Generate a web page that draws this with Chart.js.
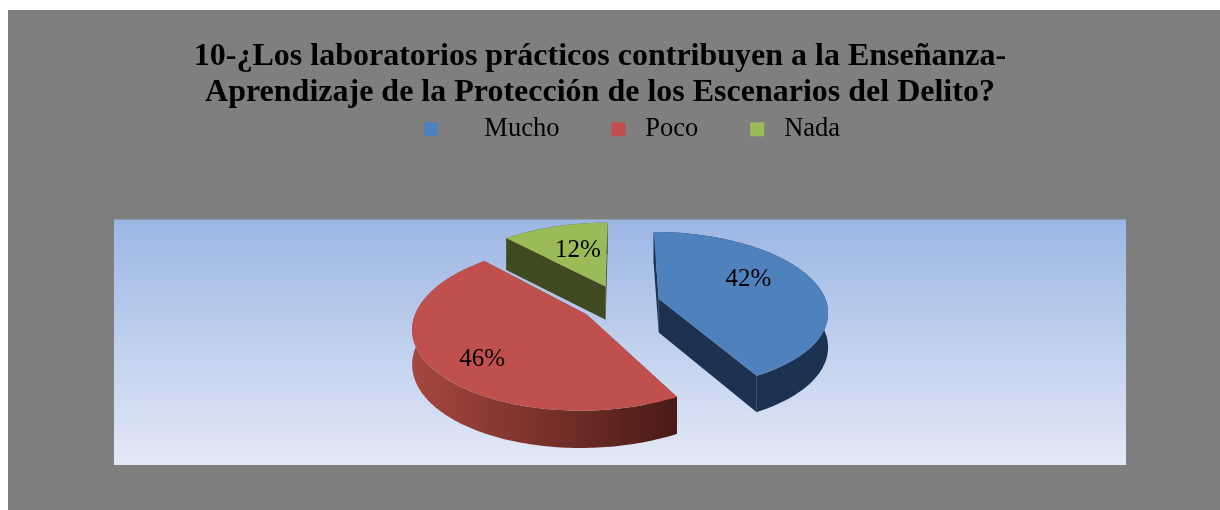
<!DOCTYPE html>
<html>
<head>
<meta charset="utf-8">
<script src="https://cdn.jsdelivr.net/npm/chart.js@4"></script>
<style>
  body { margin: 0; background: #fff; }
  #myChart { position: absolute; left: 8px; top: 10px; background: #7f7f7f; }
</style>
</head>
<body>
<canvas id="myChart" width="1212" height="500"></canvas>
<script>
const categories = ["Mucho", "Poco", "Nada"];
const values = [42, 46, 12];
const titleLines = [
  "10-¿Los laboratorios prácticos contribuyen a la Enseñanza-",
  "Aprendizaje de la Protección de los Escenarios del Delito?",
];
const colors = ["#4f81bd", "#c0504d", "#9bbb59"];
const sideLeftColors = ["#1d3250", "#a5483f", "#404a20"];
const sideRightColors = ["#1d3250", "#4a1a16", "#404a20"];
const legendGaps = ["     ", " ", " "]; // the source legend has a wider gap after Mucho
const explode = [24, 24, 24]; // percent of the radius

const FONT = "'Liberation Serif', serif";

// Fake 3D pie: takes the arcs laid out by Chart.js and projects them on a tilted plane
const pie3d = {
  id: "pie3d",
  afterLayout(chart, args, opts) {
    chart.titleBlock.left += opts.titleShift;
    chart.titleBlock.right += opts.titleShift;
    chart.legend.left += opts.legendShiftX;
    chart.legend.right += opts.legendShiftX;
    chart.legend.top += opts.legendShiftY;
    chart.legend.bottom += opts.legendShiftY;
  },
  beforeDraw(chart) {
    const { ctx, chartArea: a } = chart;
    const grad = ctx.createLinearGradient(0, a.top, 0, a.bottom);
    grad.addColorStop(0, "#9cb6e4");
    grad.addColorStop(1, "#e3e9f6");
    ctx.save();
    ctx.fillStyle = grad;
    ctx.fillRect(a.left, a.top, a.width, a.height);
    ctx.restore();
  },
  beforeDatasetsDraw(chart, args, opts) {
    const ctx = chart.ctx;
    const arcs = chart.getDatasetMeta(0).data.map((arc, i) => ({ arc, i }));
    // back to front
    arcs.sort((p, q) => midV(p.arc) - midV(q.arc));

    arcs.forEach(({ arc, i }) => {
      const shift = arc.options.offset / 100;
      const mid = (arc.startAngle + arc.endAngle) / 2;
      const du = Math.cos(mid) * shift;
      const dv = Math.sin(mid) * shift;
      const project = (u, v, h) => {
        const w = 1 - opts.perspective * (v + dv);
        return {
          x: arc.x + (arc.outerRadius * opts.scaleX * (u + du)) / w,
          y: arc.y + opts.lift + (arc.outerRadius * opts.scaleY * (v + dv)) / w + (h * opts.depth) / Math.sqrt(w),
        };
      };

      const rim = [];
      const steps = Math.ceil((arc.endAngle - arc.startAngle) / 0.02);
      for (let s = 0; s <= steps; s++) {
        const t = arc.startAngle + ((arc.endAngle - arc.startAngle) * s) / steps;
        rim.push([Math.cos(t), Math.sin(t)]);
      }
      const top = rim.map((r) => project(r[0], r[1], 0));
      const low = rim.map((r) => project(r[0], r[1], 1));
      const apex = project(0, 0, 0);
      const apexLow = project(0, 0, 1);

      const xs = top.map((p) => p.x);
      const side = ctx.createLinearGradient(Math.min(...xs), 0, Math.max(...xs), 0);
      side.addColorStop(0, sideLeftColors[i]);
      side.addColorStop(1, sideRightColors[i]);
      ctx.save();
      ctx.fillStyle = side;

      // cut faces
      [[top[0], low[0]], [top[steps], low[steps]]].forEach(([a, b]) => {
        ctx.beginPath();
        ctx.moveTo(apex.x, apex.y);
        ctx.lineTo(a.x, a.y);
        ctx.lineTo(b.x, b.y);
        ctx.lineTo(apexLow.x, apexLow.y);
        ctx.closePath();
        ctx.fill();
      });
      // outer wall
      ctx.beginPath();
      top.forEach((p, k) => (k ? ctx.lineTo(p.x, p.y) : ctx.moveTo(p.x, p.y)));
      for (let k = steps; k >= 0; k--) ctx.lineTo(low[k].x, low[k].y);
      ctx.closePath();
      ctx.fill();
      // top face
      ctx.fillStyle = arc.options.backgroundColor;
      ctx.beginPath();
      ctx.moveTo(apex.x, apex.y);
      top.forEach((p) => ctx.lineTo(p.x, p.y));
      ctx.closePath();
      ctx.fill();
      // percentage
      const reach = opts.labelReach[i];
      const at = project(Math.cos(mid) * reach, Math.sin(mid) * reach, 0);
      ctx.fillStyle = "#000";
      ctx.font = "25px " + FONT;
      ctx.textAlign = "center";
      ctx.textBaseline = "middle";
      ctx.fillText(values[i] + "%", at.x + opts.labelNudge[i][0], at.y + opts.labelNudge[i][1]);
      ctx.restore();
    });
    return false;
  },
};

function midV(arc) {
  return Math.sin((arc.startAngle + arc.endAngle) / 2);
}

new Chart(document.getElementById("myChart"), {
  type: "pie",
  plugins: [pie3d],
  data: {
    labels: categories,
    datasets: [
      {
        data: values,
        backgroundColor: colors,
        offset: explode,
        borderWidth: 0,
        radius: 100,
      },
    ],
  },
  options: {
    responsive: false,
    animation: false,
    layout: { padding: { left: 106, right: 94, top: 29, bottom: 45 } },
    plugins: {
      pie3d: {
        perspective: 0.15,
        scaleX: 1.68,
        scaleY: 0.78,
        depth: 34,
        lift: -39,
        labelReach: [0.58, 0.74, 0.63],
        labelNudge: [[-1, -8], [8, 7], [6, 3]],
        titleShift: -20,
        legendShiftX: 12,
        legendShiftY: -67,
      },
      title: {
        display: true,
        text: titleLines,
        color: "#000",
        font: { family: FONT, size: 32, weight: "bold", lineHeight: 1.125 },
        padding: { top: 0, bottom: 20 },
      },
      legend: {
        position: "top",
        labels: {
          color: "#000",
          font: { family: FONT, size: 26.5 },
          boxWidth: 14,
          boxHeight: 14,
          padding: 52,
          generateLabels: () =>
            categories.map((c, i) => ({
              text: legendGaps[i] + c,
              fillStyle: colors[i],
              strokeStyle: colors[i],
              lineWidth: 0,
              hidden: false,
              index: i,
            })),
        },
      },
      tooltip: { enabled: false },
    },
  },
});
</script>
</body>
</html>
